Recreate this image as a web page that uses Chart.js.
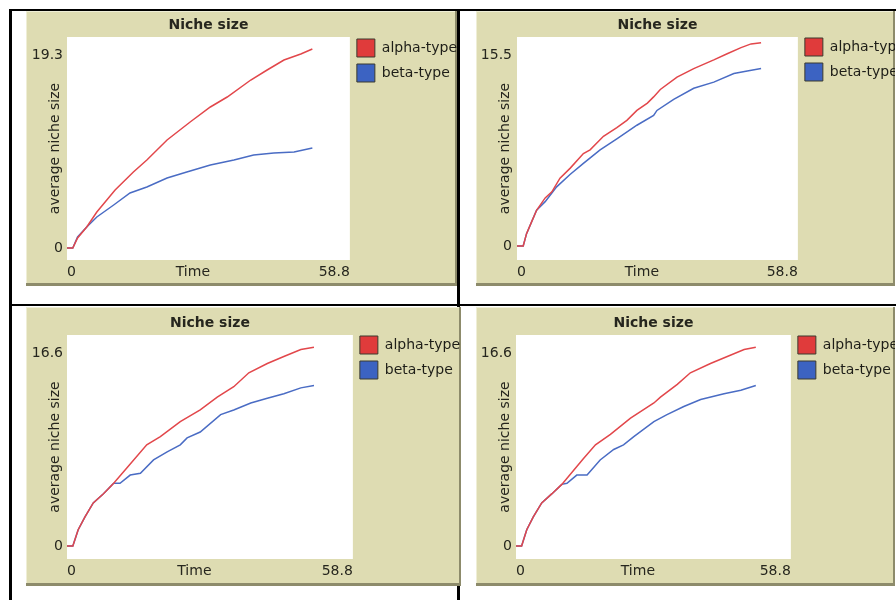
<!DOCTYPE html>
<html>
<head>
<meta charset="utf-8">
<script src="https://cdn.jsdelivr.net/npm/chart.js@4.4.0/dist/chart.umd.min.js"></script>
<style>
  html, body { margin: 0; padding: 0; background: #fff; width: 896px; height: 600px; overflow: hidden; position: relative; }
  .rule { position: absolute; background: #000; }
  .panel { position: absolute; background: #dedcb2; overflow: hidden;
           box-shadow: inset -2px -3px 0 #8d8b6b, inset 1px 1px 0 #efeed6; }
  .panel canvas { position: absolute; left: 0; top: 0; }
</style>
</head>
<body>
<div class="rule" style="left:9px;top:9px;width:3px;height:591px"></div>
<div class="rule" style="left:9px;top:9px;width:887px;height:2px"></div>
<div class="rule" style="left:457px;top:9px;width:3px;height:591px"></div>
<div class="rule" style="left:9px;top:304px;width:887px;height:2px"></div>

<div class="panel" id="p1"><canvas id="c1"></canvas></div>
<div class="panel" id="p2"><canvas id="c2"></canvas></div>
<div class="panel" id="p3"><canvas id="c3"></canvas></div>
<div class="panel" id="p4"><canvas id="c4"></canvas></div>

<script>
// ── Data ───────────────────────────────────────────
const seriesNames = ['alpha-type', 'beta-type'];
const xTickLabels = [0, 58.8];

// top left
const p1AlphaTime = [0, 1.2, 2.2, 4.1, 6.2, 10.0, 13.8, 16.6, 20.8, 25.6, 29.8, 33.3, 38.2, 41.6, 45.1, 48.6, 51.0];
const p1AlphaSize = [0, 0, 1.0, 2.1, 3.6, 5.8, 7.6, 8.8, 10.8, 12.6, 14.1, 15.1, 16.8, 17.8, 18.8, 19.4, 19.9];
const p1BetaTime  = [0, 1.2, 2.2, 4.1, 6.2, 9.7, 13.1, 16.6, 20.8, 24.9, 29.8, 34.7, 38.8, 43.0, 47.2, 51.0];
const p1BetaSize  = [0, 0, 1.1, 2.1, 3.1, 4.3, 5.5, 6.1, 7.0, 7.6, 8.3, 8.8, 9.3, 9.5, 9.6, 10.0];
const p1YTicks    = [0, 19.3];

// top right
const p2AlphaTime = [0, 1.3, 2.0, 3.1, 4.1, 5.9, 7.3, 9.0, 11.1, 13.9, 15.3, 18.1, 20.9, 23.0, 25.1, 27.3, 28.6, 30.0, 33.5, 37.0, 41.2, 44.0, 46.9, 49.0, 51.1];
const p2AlphaSize = [0, 0, 1.0, 2.0, 2.9, 3.9, 4.4, 5.5, 6.3, 7.5, 7.8, 8.9, 9.6, 10.2, 11.0, 11.6, 12.1, 12.7, 13.7, 14.4, 15.1, 15.6, 16.1, 16.4, 16.5];
const p2BetaTime  = [0, 1.3, 2.0, 4.1, 5.9, 8.3, 11.1, 13.9, 17.4, 20.9, 25.1, 28.6, 29.3, 32.8, 37.0, 41.2, 45.4, 48.2, 51.1];
const p2BetaSize  = [0, 0, 1.0, 2.9, 3.6, 4.8, 5.8, 6.7, 7.8, 8.7, 9.8, 10.6, 11.0, 11.9, 12.8, 13.3, 14.0, 14.2, 14.4];
const p2YTicks    = [0, 15.5];

// bottom left
const p3AlphaTime = [0, 1.2, 2.3, 3.7, 5.4, 7.5, 9.6, 12.3, 16.4, 19.2, 23.3, 27.4, 30.9, 34.3, 37.4, 41.2, 44.6, 48.1, 50.8];
const p3AlphaSize = [0, 0, 1.4, 2.5, 3.7, 4.5, 5.4, 6.7, 8.7, 9.4, 10.7, 11.7, 12.8, 13.7, 14.9, 15.7, 16.3, 16.9, 17.1];
const p3BetaTime  = [0, 1.2, 2.3, 3.7, 5.4, 7.5, 9.6, 10.9, 13.0, 15.1, 17.8, 20.6, 23.3, 24.7, 27.4, 31.6, 34.3, 37.8, 41.2, 44.6, 48.1, 50.8];
const p3BetaSize  = [0, 0, 1.4, 2.5, 3.7, 4.5, 5.4, 5.4, 6.1, 6.25, 7.4, 8.1, 8.7, 9.3, 9.8, 11.3, 11.7, 12.3, 12.7, 13.1, 13.6, 13.8];
const p3YTicks    = [0, 16.6];

// bottom right
const p4AlphaTime = [0, 1.2, 2.3, 3.7, 5.5, 7.7, 9.8, 12.3, 14.4, 17.0, 20.2, 24.5, 29.5, 30.9, 34.5, 37.3, 41.6, 45.2, 48.8, 51.3];
const p4AlphaSize = [0, 0, 1.4, 2.5, 3.7, 4.5, 5.3, 6.5, 7.5, 8.7, 9.6, 11.0, 12.3, 12.8, 13.9, 14.9, 15.7, 16.3, 16.9, 17.1];
const p4BetaTime  = [0, 1.2, 2.3, 3.7, 5.5, 7.7, 9.8, 10.9, 13.0, 15.2, 18.0, 20.9, 23.0, 25.2, 29.5, 32.3, 35.9, 39.5, 44.5, 48.1, 51.3];
const p4BetaSize  = [0, 0, 1.4, 2.5, 3.7, 4.5, 5.3, 5.4, 6.1, 6.1, 7.4, 8.3, 8.7, 9.4, 10.7, 11.3, 12.0, 12.6, 13.1, 13.4, 13.8];
const p4YTicks    = [0, 16.6];

// ── Layout of each plot widget (panel box + plot area, px) ──
const FONT = '"DejaVu Sans", Verdana, sans-serif';
const INK = '#26261e';
const LH = 16.8; // 14px * 1.2

const panels = [
  { id: 'p1', canvas: 'c1', box: [26, 11, 431, 275], plot: { left: 41, top: 26, right: 323, bottom: 249 },
    zeroPx: 237, maxPx: 44, legendTop: 28, titleY: 14, yTitleX: 29, labelY: 261, yTickPad: 4,
    alpha: [p1AlphaTime, p1AlphaSize], beta: [p1BetaTime, p1BetaSize], yTicks: p1YTicks },
  { id: 'p2', canvas: 'c2', box: [476, 11, 419, 275], plot: { left: 41, top: 26, right: 321, bottom: 249 },
    zeroPx: 235, maxPx: 44, legendTop: 27, titleY: 14, yTitleX: 29, labelY: 261, yTickPad: 5,
    alpha: [p2AlphaTime, p2AlphaSize], beta: [p2BetaTime, p2BetaSize], yTicks: p2YTicks },
  { id: 'p3', canvas: 'c3', box: [26, 307, 435, 279], plot: { left: 41, top: 28, right: 326, bottom: 252 },
    zeroPx: 239, maxPx: 46, legendTop: 29, titleY: 16, yTitleX: 29, labelY: 264.5, yTickPad: 4,
    alpha: [p3AlphaTime, p3AlphaSize], beta: [p3BetaTime, p3BetaSize], yTicks: p3YTicks },
  { id: 'p4', canvas: 'c4', box: [476, 307, 419, 279], plot: { left: 40, top: 28, right: 314, bottom: 252 },
    zeroPx: 239, maxPx: 46, legendTop: 29, titleY: 16, yTitleX: 29, labelY: 264.5, yTickPad: 4,
    alpha: [p4AlphaTime, p4AlphaSize], beta: [p4BetaTime, p4BetaSize], yTicks: p4YTicks }
];

const lineColors   = ['#e2474b', '#4a6cc4'];
const swatchColors = ['#e03b3b', '#3c63c2'];

// white plot background inside the chart area
const plotBackground = {
  id: 'plotBackground',
  beforeDraw(chart) {
    const { ctx, chartArea: a } = chart;
    ctx.save();
    ctx.fillStyle = '#fff';
    ctx.fillRect(a.left, a.top, a.width, a.height);
    ctx.restore();
  }
};

Chart.defaults.font.family = FONT;
Chart.defaults.font.size = 14;
Chart.defaults.color = INK;

function points(times, values) {
  return times.map((t, i) => ({ x: t, y: values[i] }));
}

const LEGEND_PAD = 7, BOX = 18;

// width Chart.js will give the right-hand legend (it clips its text to that box)
function legendWidthFor(canvas) {
  const ctx = canvas.getContext('2d');
  ctx.font = '14px ' + FONT;
  const textW = Math.max(...seriesNames.map(s => ctx.measureText(s).width));
  return LEGEND_PAD + BOX + 7 + textW + 10;
}

function renderPanel(p) {
  const el = document.getElementById(p.id);
  const [bx, by, bw, bh] = p.box;
  Object.assign(el.style, { left: bx + 'px', top: by + 'px', width: bw + 'px', height: bh + 'px' });

  const canvas = document.getElementById(p.canvas);
  const legendWidth = Math.ceil(legendWidthFor(canvas));
  canvas.width = p.plot.right + legendWidth;
  canvas.height = bh;

  // y range so that the 0 / max tick labels land where NetLogo put them
  const yMax = p.yTicks[p.yTicks.length - 1];
  const ppu = (p.zeroPx - p.maxPx) / yMax;
  const yMin = -(p.plot.bottom - p.zeroPx) / ppu;
  const yTop = yMax + (p.maxPx - p.plot.top) / ppu;

  const padTop = p.legendTop - LEGEND_PAD;
  const titlePadTop = p.titleY - padTop - LH / 2;
  const titlePadBottom = p.plot.top - padTop - LH - titlePadTop;

  new Chart(canvas, {
    type: 'line',
    data: {
      datasets: [
        { label: seriesNames[0], data: points(p.alpha[0], p.alpha[1]),
          borderColor: lineColors[0], backgroundColor: swatchColors[0], borderWidth: 1.5, pointRadius: 0, tension: 0 },
        { label: seriesNames[1], data: points(p.beta[0], p.beta[1]),
          borderColor: lineColors[1], backgroundColor: swatchColors[1], borderWidth: 1.5, pointRadius: 0, tension: 0 }
      ]
    },
    options: {
      responsive: false,
      animation: false,
      devicePixelRatio: 1,
      layout: { padding: { top: padTop, left: 0, right: 0, bottom: 0 } },
      plugins: {
        tooltip: { enabled: false },
        title: {
          display: true, text: 'Niche size', fullSize: false, color: INK,
          font: { size: 14, weight: 'bold', lineHeight: 1.2 },
          padding: { top: titlePadTop, bottom: titlePadBottom }
        },
        legend: {
          position: 'right', align: 'start', maxWidth: legendWidth,
          labels: {
            boxWidth: BOX, boxHeight: BOX, padding: LEGEND_PAD, color: '#1e1e18',
            font: { size: 14 },
            generateLabels(chart) {
              const items = Chart.defaults.plugins.legend.labels.generateLabels(chart);
              items.forEach(it => { it.strokeStyle = '#3a3a2e'; it.lineWidth = 1; });
              return items;
            }
          }
        }
      },
      scales: {
        x: {
          type: 'linear', min: xTickLabels[0], max: xTickLabels[xTickLabels.length - 1],
          grid: { display: false, drawTicks: false }, border: { display: false },
          afterBuildTicks: s => { s.ticks = xTickLabels.map(v => ({ value: v })); },
          afterFit: s => { s.height = bh - p.plot.bottom; },
          ticks: { align: 'inner', maxRotation: 0, padding: p.labelY - p.plot.bottom - LH / 2,
                   callback: v => String(v), color: INK },
          title: { display: true, text: 'Time       ', color: INK,
                   padding: { top: 0, bottom: bh - LH / 2 - p.labelY } }
        },
        y: {
          type: 'linear', min: yMin, max: yTop,
          grid: { display: false, drawTicks: false }, border: { display: false },
          afterBuildTicks: s => { s.ticks = p.yTicks.map(v => ({ value: v })); },
          afterFit: s => { s.width = p.plot.left; },
          ticks: { padding: p.yTickPad, callback: v => String(v), color: INK },
          title: { display: true, text: 'average niche size', color: INK,
                   padding: { top: p.yTitleX - LH / 2, bottom: 0 } }
        }
      }
    },
    plugins: [plotBackground]
  });
}

panels.forEach(renderPanel);
</script>
</body>
</html>
